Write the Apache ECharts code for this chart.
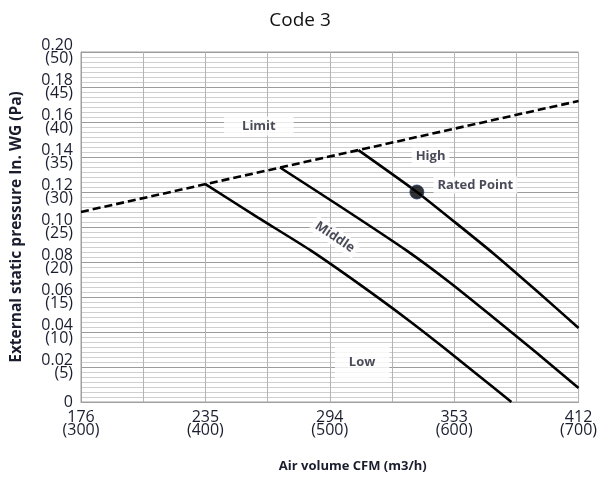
<!DOCTYPE html>
<html>
<head>
<meta charset="utf-8">
<script src="https://cdn.jsdelivr.net/npm/echarts@6/dist/echarts.min.js"></script>
<style>html,body{margin:0;padding:0;background:#fff}#c{width:600px;height:483px}</style>
</head>
<body>
<div id="c"></div>
<script>
// x axis in m3/h, labelled with CFM above
const xTickM3h = [300, 400, 500, 600, 700];
const xTickCfm = ['176', '235', '294', '353', '412'];
// y axis in In. WG, labelled with Pa below
const yTickWG = ['0', '0.02', '0.04', '0.06', '0.08', '0.10', '0.12', '0.14', '0.16', '0.18', '0.20'];
const yTickPa = ['', '5', '10', '15', '20', '25', '30', '35', '40', '45', '50'];

// curves: [m3/h, In. WG]
const limitLine = [[300, 0.1086], [700, 0.172]];
const lowCurve = [[400, 0.1245], [442, 0.1055], [484, 0.0869], [524, 0.0672], [563, 0.0469], [590, 0.032], [617, 0.0166], [646, 0]];
const middleCurve = [[460, 0.134], [510, 0.111], [561, 0.0869], [597, 0.068], [632, 0.048], [666, 0.0283], [700, 0.008]];
const highCurve = [[523, 0.1439], [570, 0.12], [601, 0.1025], [632, 0.0846], [666, 0.0637], [700, 0.0423]];
const ratedPoint = [[570, 0.12]];

// annotation texts at data positions
const noteTexts = ['Limit', 'High', 'Rated Point', 'Middle', 'Low'];
const noteAt = [[443, 0.1577], [581, 0.1406], [617, 0.124], [504, 0.0943], [526, 0.0229]];

const FONT = 'Open Sans';
const chart = echarts.init(document.getElementById('c'), null, {renderer: 'canvas'});

const noteStyles = {
  'Limit': {padding: [3, 18]},
  'High': {padding: [2, 4]},
  'Rated Point': {padding: [2, 4]},
  'Middle': {padding: [2, 4], rotate: -34},
  'Low': {padding: [12, 14]}
};

const notes = noteTexts.map((t, i) => ({
  value: noteAt[i],
  label: Object.assign({
    show: true, position: 'inside', formatter: t,
    fontFamily: FONT, fontWeight: 'bold', fontSize: 13, color: '#1a1d2e',
    backgroundColor: '#fff'
  }, noteStyles[t])
}));

const curveStyle = {color: '#000', width: 2.6};

const option = {
  animation: false,
  backgroundColor: '#fff',
  title: {
    text: 'Code 3', left: 'center', top: 6,
    textStyle: {fontFamily: FONT, fontWeight: 'normal', fontSize: 19, color: '#111'}
  },
  grid: {left: 81, right: 15, top: 52, bottom: 81, show: true, borderColor: '#a0a0a0', borderWidth: 1, backgroundColor: '#fff'},
  xAxis: {
    type: 'value', min: 300, max: 700, interval: 50,
    name: 'Air volume CFM (m3/h)', nameLocation: 'middle', nameGap: 58,
    nameTextStyle: {fontFamily: FONT, fontWeight: 'bold', fontSize: 13, color: '#1a1d2e', padding: [0, 0, 0, 46]},
    axisLine: {show: true, lineStyle: {color: '#a0a0a0'}},
    axisTick: {show: false},
    axisLabel: {
      margin: 9, fontFamily: FONT, fontSize: 16, lineHeight: 13, color: '#1a1d2e',
      formatter: v => {
        const i = xTickM3h.indexOf(Math.round(v));
        return i < 0 ? '' : xTickCfm[i] + '\n(' + xTickM3h[i] + ')';
      }
    },
    splitLine: {show: true, lineStyle: {color: '#b4b4b4'}}
  },
  yAxis: {
    type: 'value', min: 0, max: 0.2, interval: 0.02,
    name: 'External static pressure In. WG (Pa)', nameLocation: 'middle', nameGap: 56,
    nameTextStyle: {fontFamily: FONT, fontWeight: 'bold', fontSize: 15.5, color: '#1a1d2e'},
    axisLine: {show: true, lineStyle: {color: '#a0a0a0'}},
    axisTick: {show: false},
    axisLabel: {
      margin: 8, fontFamily: FONT, fontSize: 16, lineHeight: 13, color: '#1a1d2e',
      formatter: v => {
        const i = Math.round(v / 0.02);
        return yTickPa[i] ? yTickWG[i] + '\n(' + yTickPa[i] + ')' : yTickWG[i];
      }
    },
    splitLine: {show: true, lineStyle: {color: '#9c9c9c'}},
    minorTick: {show: false, splitNumber: 7},
    minorSplitLine: {show: true, lineStyle: {color: '#cfcfcf'}}
  },
  series: [
    {type: 'line', data: limitLine, symbol: 'none', lineStyle: {color: '#000', width: 2.6, type: [8, 4]}, z: 3},
    {type: 'line', data: lowCurve, symbol: 'none', smooth: 0.2, lineStyle: curveStyle, z: 3},
    {type: 'line', data: middleCurve, symbol: 'none', smooth: 0.2, lineStyle: curveStyle, z: 3},
    {type: 'line', data: highCurve, symbol: 'none', smooth: 0.2, lineStyle: curveStyle, z: 3},
    {type: 'scatter', data: ratedPoint, symbol: 'circle', symbolSize: 14, itemStyle: {color: '#000', borderColor: '#1f3a6e', borderWidth: 1}, z: 5},
    {type: 'scatter', data: notes, symbolSize: 0, z: 4, silent: true}
  ]
};
chart.setOption(option);
</script>
</body>
</html>
